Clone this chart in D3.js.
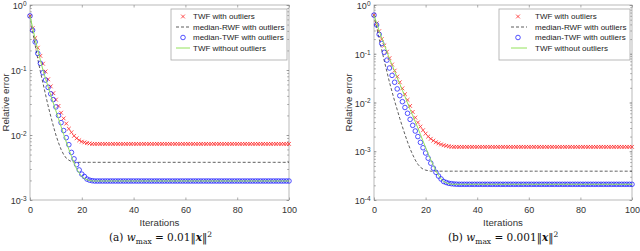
<!DOCTYPE html>
<html>
<head>
<meta charset="utf-8">
<script src="https://cdn.jsdelivr.net/npm/d3@7"></script>
<style>
    body { margin: 0; background: #fff; }
    svg { display: block; font-family: "Liberation Sans", Arial, sans-serif; }
    .axis path { display: none; }
    .axis line { stroke: #8a8a8a; stroke-width: 0.7; }
    .axis text { font-size: 9px; fill: #333; }
</style>
</head>
<body>
<svg id="chart" width="640" height="251"></svg>
<script>
// x positions are the iteration numbers 0..100
const iterations = d3.range(0, 101);
const xTicks = [0, 20, 40, 60, 80, 100];
const yTicksA = [1e-3, 1e-2, 1e-1, 1];
const yTicksB = [1e-4, 1e-3, 1e-2, 1e-1, 1];
const legendLabels = ['TWF with outliers', 'median-RWF with outliers', 'median-TWF with outliers', 'TWF without outliers'];

// (a) w_max = 0.01||x||^2
const twfOutA = [
    0.68, 0.44, 0.31, 0.22, 0.165, 0.125, 0.095, 0.072, 0.056, 0.044,
    0.035, 0.028, 0.022, 0.018, 0.015, 0.0125, 0.011, 0.0097, 0.0089, 0.0083,
    0.0079, 0.0077, 0.0075, 0.0074, 0.0073, 0.0073, 0.0073, 0.0073, 0.0073, 0.0073,
    0.0073, 0.0073, 0.0073, 0.0073, 0.0073, 0.0073, 0.0073, 0.0073, 0.0073, 0.0073,
    0.0073, 0.0073, 0.0073, 0.0073, 0.0073, 0.0073, 0.0073, 0.0073, 0.0073, 0.0073,
    0.0073, 0.0073, 0.0073, 0.0073, 0.0073, 0.0073, 0.0073, 0.0073, 0.0073, 0.0073,
    0.0073, 0.0073, 0.0073, 0.0073, 0.0073, 0.0073, 0.0073, 0.0073, 0.0073, 0.0073,
    0.0073, 0.0073, 0.0073, 0.0073, 0.0073, 0.0073, 0.0073, 0.0073, 0.0073, 0.0073,
    0.0073, 0.0073, 0.0073, 0.0073, 0.0073, 0.0073, 0.0073, 0.0073, 0.0073, 0.0073,
    0.0073, 0.0073, 0.0073, 0.0073, 0.0073, 0.0073, 0.0073, 0.0073, 0.0073, 0.0073,
    0.0073
];
const medRwfA = [
    0.68, 0.40, 0.24, 0.148, 0.095, 0.063, 0.042, 0.028, 0.0195, 0.0138,
    0.0100, 0.0076, 0.0060, 0.0050, 0.0044, 0.0041, 0.0039, 0.00385, 0.0038, 0.0038,
    0.0038, 0.0038, 0.0038, 0.0038, 0.0038, 0.0038, 0.0038, 0.0038, 0.0038, 0.0038,
    0.0038, 0.0038, 0.0038, 0.0038, 0.0038, 0.0038, 0.0038, 0.0038, 0.0038, 0.0038,
    0.0038, 0.0038, 0.0038, 0.0038, 0.0038, 0.0038, 0.0038, 0.0038, 0.0038, 0.0038,
    0.0038, 0.0038, 0.0038, 0.0038, 0.0038, 0.0038, 0.0038, 0.0038, 0.0038, 0.0038,
    0.0038, 0.0038, 0.0038, 0.0038, 0.0038, 0.0038, 0.0038, 0.0038, 0.0038, 0.0038,
    0.0038, 0.0038, 0.0038, 0.0038, 0.0038, 0.0038, 0.0038, 0.0038, 0.0038, 0.0038,
    0.0038, 0.0038, 0.0038, 0.0038, 0.0038, 0.0038, 0.0038, 0.0038, 0.0038, 0.0038,
    0.0038, 0.0038, 0.0038, 0.0038, 0.0038, 0.0038, 0.0038, 0.0038, 0.0038, 0.0038,
    0.0038
];
const medTwfA = [
    0.68, 0.41, 0.27, 0.18, 0.127, 0.091, 0.070, 0.054, 0.043, 0.035,
    0.027, 0.020, 0.0155, 0.0117, 0.0091, 0.0071, 0.0054, 0.0043, 0.0035, 0.0029,
    0.0025, 0.0023, 0.0021, 0.00202, 0.00198, 0.00196, 0.00196, 0.00196, 0.00196, 0.00196,
    0.00196, 0.00196, 0.00196, 0.00196, 0.00196, 0.00196, 0.00196, 0.00196, 0.00196, 0.00196,
    0.00196, 0.00196, 0.00196, 0.00196, 0.00196, 0.00196, 0.00196, 0.00196, 0.00196, 0.00196,
    0.00196, 0.00196, 0.00196, 0.00196, 0.00196, 0.00196, 0.00196, 0.00196, 0.00196, 0.00196,
    0.00196, 0.00196, 0.00196, 0.00196, 0.00196, 0.00196, 0.00196, 0.00196, 0.00196, 0.00196,
    0.00196, 0.00196, 0.00196, 0.00196, 0.00196, 0.00196, 0.00196, 0.00196, 0.00196, 0.00196,
    0.00196, 0.00196, 0.00196, 0.00196, 0.00196, 0.00196, 0.00196, 0.00196, 0.00196, 0.00196,
    0.00196, 0.00196, 0.00196, 0.00196, 0.00196, 0.00196, 0.00196, 0.00196, 0.00196, 0.00196,
    0.00196
];
const twfCleanA = [
    0.68, 0.45, 0.30, 0.205, 0.142, 0.100, 0.074, 0.055, 0.041, 0.031,
    0.0235, 0.0178, 0.0135, 0.0102, 0.0078, 0.0060, 0.0047, 0.0037, 0.0030, 0.0026,
    0.0023, 0.00215, 0.00205, 0.00199, 0.00196, 0.00196, 0.00196, 0.00196, 0.00196, 0.00196,
    0.00196, 0.00196, 0.00196, 0.00196, 0.00196, 0.00196, 0.00196, 0.00196, 0.00196, 0.00196,
    0.00196, 0.00196, 0.00196, 0.00196, 0.00196, 0.00196, 0.00196, 0.00196, 0.00196, 0.00196,
    0.00196, 0.00196, 0.00196, 0.00196, 0.00196, 0.00196, 0.00196, 0.00196, 0.00196, 0.00196,
    0.00196, 0.00196, 0.00196, 0.00196, 0.00196, 0.00196, 0.00196, 0.00196, 0.00196, 0.00196,
    0.00196, 0.00196, 0.00196, 0.00196, 0.00196, 0.00196, 0.00196, 0.00196, 0.00196, 0.00196,
    0.00196, 0.00196, 0.00196, 0.00196, 0.00196, 0.00196, 0.00196, 0.00196, 0.00196, 0.00196,
    0.00196, 0.00196, 0.00196, 0.00196, 0.00196, 0.00196, 0.00196, 0.00196, 0.00196, 0.00196,
    0.00196
];

// (b) w_max = 0.001||x||^2
const twfOutB = [
    0.62, 0.42, 0.29, 0.20, 0.148, 0.110, 0.081, 0.060, 0.045, 0.034,
    0.026, 0.0195, 0.0148, 0.0113, 0.0085, 0.0064, 0.0049, 0.0039, 0.0032, 0.0027,
    0.0023, 0.0020, 0.0018, 0.00165, 0.00153, 0.00145, 0.00138, 0.00133, 0.00129, 0.00126,
    0.00124, 0.00123, 0.00123, 0.00123, 0.00123, 0.00123, 0.00123, 0.00123, 0.00123, 0.00123,
    0.00123, 0.00123, 0.00123, 0.00123, 0.00123, 0.00123, 0.00123, 0.00123, 0.00123, 0.00123,
    0.00123, 0.00123, 0.00123, 0.00123, 0.00123, 0.00123, 0.00123, 0.00123, 0.00123, 0.00123,
    0.00123, 0.00123, 0.00123, 0.00123, 0.00123, 0.00123, 0.00123, 0.00123, 0.00123, 0.00123,
    0.00123, 0.00123, 0.00123, 0.00123, 0.00123, 0.00123, 0.00123, 0.00123, 0.00123, 0.00123,
    0.00123, 0.00123, 0.00123, 0.00123, 0.00123, 0.00123, 0.00123, 0.00123, 0.00123, 0.00123,
    0.00123, 0.00123, 0.00123, 0.00123, 0.00123, 0.00123, 0.00123, 0.00123, 0.00123, 0.00123,
    0.00123
];
const medRwfB = [
    0.62, 0.355, 0.204, 0.120, 0.071, 0.043, 0.026, 0.0166, 0.0107, 0.0071,
    0.0047, 0.0032, 0.0022, 0.00155, 0.00112, 0.00085, 0.00066, 0.00054, 0.00047, 0.00043,
    0.00041, 0.00040, 0.00039, 0.00039, 0.00039, 0.00039, 0.00039, 0.00039, 0.00039, 0.00039,
    0.00039, 0.00039, 0.00039, 0.00039, 0.00039, 0.00039, 0.00039, 0.00039, 0.00039, 0.00039,
    0.00039, 0.00039, 0.00039, 0.00039, 0.00039, 0.00039, 0.00039, 0.00039, 0.00039, 0.00039,
    0.00039, 0.00039, 0.00039, 0.00039, 0.00039, 0.00039, 0.00039, 0.00039, 0.00039, 0.00039,
    0.00039, 0.00039, 0.00039, 0.00039, 0.00039, 0.00039, 0.00039, 0.00039, 0.00039, 0.00039,
    0.00039, 0.00039, 0.00039, 0.00039, 0.00039, 0.00039, 0.00039, 0.00039, 0.00039, 0.00039,
    0.00039, 0.00039, 0.00039, 0.00039, 0.00039, 0.00039, 0.00039, 0.00039, 0.00039, 0.00039,
    0.00039, 0.00039, 0.00039, 0.00039, 0.00039, 0.00039, 0.00039, 0.00039, 0.00039, 0.00039,
    0.00039
];
const medTwfB = [
    0.62, 0.39, 0.25, 0.162, 0.107, 0.074, 0.051, 0.036, 0.026, 0.019,
    0.0138, 0.0104, 0.0079, 0.0060, 0.0045, 0.0034, 0.0026, 0.0020, 0.00152, 0.00118,
    0.00092, 0.00072, 0.00057, 0.00045, 0.00037, 0.00031, 0.00027, 0.00024, 0.000228, 0.00022,
    0.000216, 0.000213, 0.000211, 0.00021, 0.00021, 0.00021, 0.00021, 0.00021, 0.00021, 0.00021,
    0.00021, 0.00021, 0.00021, 0.00021, 0.00021, 0.00021, 0.00021, 0.00021, 0.00021, 0.00021,
    0.00021, 0.00021, 0.00021, 0.00021, 0.00021, 0.00021, 0.00021, 0.00021, 0.00021, 0.00021,
    0.00021, 0.00021, 0.00021, 0.00021, 0.00021, 0.00021, 0.00021, 0.00021, 0.00021, 0.00021,
    0.00021, 0.00021, 0.00021, 0.00021, 0.00021, 0.00021, 0.00021, 0.00021, 0.00021, 0.00021,
    0.00021, 0.00021, 0.00021, 0.00021, 0.00021, 0.00021, 0.00021, 0.00021, 0.00021, 0.00021,
    0.00021, 0.00021, 0.00021, 0.00021, 0.00021, 0.00021, 0.00021, 0.00021, 0.00021, 0.00021,
    0.00021
];
const twfCleanB = [
    0.62, 0.43, 0.295, 0.21, 0.151, 0.110, 0.079, 0.059, 0.044, 0.032,
    0.024, 0.0178, 0.0132, 0.0098, 0.0072, 0.0054, 0.0040, 0.0030, 0.0022, 0.00162,
    0.0012, 0.00089, 0.00067, 0.00051, 0.00040, 0.00032, 0.00027, 0.00024, 0.000225, 0.000215,
    0.00021, 0.00021, 0.00021, 0.00021, 0.00021, 0.00021, 0.00021, 0.00021, 0.00021, 0.00021,
    0.00021, 0.00021, 0.00021, 0.00021, 0.00021, 0.00021, 0.00021, 0.00021, 0.00021, 0.00021,
    0.00021, 0.00021, 0.00021, 0.00021, 0.00021, 0.00021, 0.00021, 0.00021, 0.00021, 0.00021,
    0.00021, 0.00021, 0.00021, 0.00021, 0.00021, 0.00021, 0.00021, 0.00021, 0.00021, 0.00021,
    0.00021, 0.00021, 0.00021, 0.00021, 0.00021, 0.00021, 0.00021, 0.00021, 0.00021, 0.00021,
    0.00021, 0.00021, 0.00021, 0.00021, 0.00021, 0.00021, 0.00021, 0.00021, 0.00021, 0.00021,
    0.00021, 0.00021, 0.00021, 0.00021, 0.00021, 0.00021, 0.00021, 0.00021, 0.00021, 0.00021,
    0.00021
];

const svg = d3.select('#chart');

const RED = '#ff1a1a', BLUE = '#1a1aff', GREEN = '#92e25a', DASH = '#333';

function crossPath(cx, cy, r) {
    return `M${cx - r},${cy - r}L${cx + r},${cy + r}M${cx - r},${cy + r}L${cx + r},${cy - r}`;
}

function drawPanel(p) {
    const x = d3.scaleLinear().domain([0, 100]).range([p.left, p.right]);
    const y = d3.scaleLog().domain([p.yTicks[0], 1]).range([p.bottom, p.top]);
    const g = svg.append('g');

    // frame
    g.append('rect')
        .attr('x', p.left).attr('y', p.top)
        .attr('width', p.right - p.left).attr('height', p.bottom - p.top)
        .attr('fill', 'none').attr('stroke', '#a8a8a8').attr('stroke-width', 0.8);

    // x axes (bottom with labels, top ticks only)
    g.append('g').attr('class', 'axis')
        .attr('transform', `translate(0,${p.bottom})`)
        .call(d3.axisBottom(x).tickValues(xTicks).tickSizeInner(-2.5).tickSizeOuter(0).tickPadding(7));
    g.append('g').attr('class', 'axis')
        .attr('transform', `translate(0,${p.top})`)
        .call(d3.axisTop(x).tickValues(xTicks).tickSizeInner(-2.5).tickSizeOuter(0).tickFormat(''));

    // y axes, minor ticks first
    const minor = y.ticks();
    g.append('g').attr('class', 'axis')
        .attr('transform', `translate(${p.left},0)`)
        .call(d3.axisLeft(y).tickValues(minor).tickSizeInner(-1.8).tickSizeOuter(0).tickFormat(''));
    g.append('g').attr('class', 'axis')
        .attr('transform', `translate(${p.right},0)`)
        .call(d3.axisRight(y).tickValues(minor).tickSizeInner(-1.8).tickSizeOuter(0).tickFormat(''));
    const yAxisG = g.append('g').attr('class', 'axis')
        .attr('transform', `translate(${p.left},0)`)
        .call(d3.axisLeft(y).tickValues(p.yTicks).tickSizeInner(-2.5).tickSizeOuter(0).tickPadding(3.5));
    g.append('g').attr('class', 'axis')
        .attr('transform', `translate(${p.right},0)`)
        .call(d3.axisRight(y).tickValues(p.yTicks).tickSizeInner(-2.5).tickSizeOuter(0).tickFormat(''));

    // 10^n labels
    yAxisG.selectAll('.tick text').each(function (d) {
        const t = d3.select(this).text('').attr('dy', '0.4em');
        t.append('tspan').text('10');
        t.append('tspan').attr('dy', '-0.5em').style('font-size', '6.5px')
            .text(Math.round(Math.log10(d)));
    });

    // axis labels
    g.append('text')
        .attr('x', (p.left + p.right) / 2).attr('y', 226)
        .attr('text-anchor', 'middle').style('font-size', '9.7px').attr('fill', '#333')
        .text('Iterations');
    g.append('text')
        .attr('transform', `translate(${p.ylabelX},${(p.top + p.bottom) / 2}) rotate(-90)`)
        .attr('text-anchor', 'middle').style('font-size', '9.7px').attr('fill', '#333')
        .text('Relative error');

    const line = d3.line().x((d, i) => x(iterations[i])).y(d => y(d));

    // TWF with outliers
    g.append('path')
        .attr('d', p.twfOut.map((d, i) => crossPath(x(iterations[i]), y(d), 1.9)).join(''))
        .attr('fill', 'none').attr('stroke', RED).attr('stroke-width', 0.75);

    // median-RWF with outliers
    g.append('path').datum(p.medRwf)
        .attr('d', line)
        .attr('fill', 'none').attr('stroke', DASH).attr('stroke-width', 0.8)
        .attr('stroke-dasharray', '3,2');

    // median-TWF with outliers
    g.selectAll('.circ').data(p.medTwf).enter().append('circle')
        .attr('class', 'circ')
        .attr('cx', (d, i) => x(iterations[i]))
        .attr('cy', d => y(d))
        .attr('r', 2.3)
        .attr('fill', 'none').attr('stroke', BLUE).attr('stroke-width', 0.75);

    // TWF without outliers
    g.append('path').datum(p.twfClean)
        .attr('d', line)
        .attr('fill', 'none').attr('stroke', GREEN).attr('stroke-width', 1);

    // legend
    const L = p.legend;
    g.append('rect')
        .attr('x', L.x0).attr('y', L.y0)
        .attr('width', L.x1 - L.x0).attr('height', L.y1 - L.y0)
        .attr('fill', '#fff').attr('stroke', '#a8a8a8').attr('stroke-width', 0.8);
    legendLabels.forEach((label, i) => {
        const ly = L.rows[i];
        if (i === 0) {
            g.append('path').attr('d', crossPath(L.mark, ly, 1.9))
                .attr('fill', 'none').attr('stroke', RED).attr('stroke-width', 0.75);
        } else if (i === 1) {
            g.append('line').attr('x1', L.lineX0).attr('x2', L.lineX1).attr('y1', ly).attr('y2', ly)
                .attr('stroke', DASH).attr('stroke-width', 0.8).attr('stroke-dasharray', '3,2');
        } else if (i === 2) {
            g.append('circle').attr('cx', L.mark).attr('cy', ly).attr('r', 2.3)
                .attr('fill', 'none').attr('stroke', BLUE).attr('stroke-width', 0.75);
        } else {
            g.append('line').attr('x1', L.lineX0).attr('x2', L.lineX1).attr('y1', ly).attr('y2', ly)
                .attr('stroke', GREEN).attr('stroke-width', 1);
        }
        g.append('text')
            .attr('x', L.text).attr('y', ly).attr('dy', '0.35em')
            .style('font-size', '8px').attr('fill', '#222')
            .text(label);
    });

    // caption
    const cap = g.append('text')
        .attr('x', p.capX).attr('y', 241)
        .style('font-family', '"DejaVu Serif", "Liberation Serif", serif')
        .style('font-size', '10.5px').attr('fill', '#111');
    cap.append('tspan').text(`(${p.tag})  `);
    cap.append('tspan').style('font-style', 'italic').text('w');
    cap.append('tspan').attr('dy', 2.5).style('font-size', '7.5px').text('max');
    cap.append('tspan').attr('dy', -2.5).text(` = ${p.wmax}\u2016`);
    cap.append('tspan').style('font-style', 'italic').style('font-weight', 'bold').text('x');
    cap.append('tspan').text('\u2016');
    cap.append('tspan').attr('dy', -4.5).style('font-size', '7.5px').text('2');
}

drawPanel({
    tag: 'a', wmax: '0.01',
    left: 30, right: 289, top: 5, bottom: 200,
    yTicks: yTicksA, ylabelX: 8.5, capX: 109,
    twfOut: twfOutA, medRwf: medRwfA, medTwf: medTwfA, twfClean: twfCleanA,
    legend: { x0: 171, x1: 287, y0: 9, y1: 60, rows: [16.5, 27, 37.5, 48], mark: 183, lineX0: 176, lineX1: 190, text: 193 }
});

drawPanel({
    tag: 'b', wmax: '0.001',
    left: 374, right: 632, top: 5, bottom: 200,
    yTicks: yTicksB, ylabelX: 352, capX: 448,
    twfOut: twfOutB, medRwf: medRwfB, medTwf: medTwfB, twfClean: twfCleanB,
    legend: { x0: 499, x1: 630, y0: 9, y1: 60, rows: [16.5, 27, 37.5, 48], mark: 518, lineX0: 511, lineX1: 527, text: 535 }
});
</script>
</body>
</html>
